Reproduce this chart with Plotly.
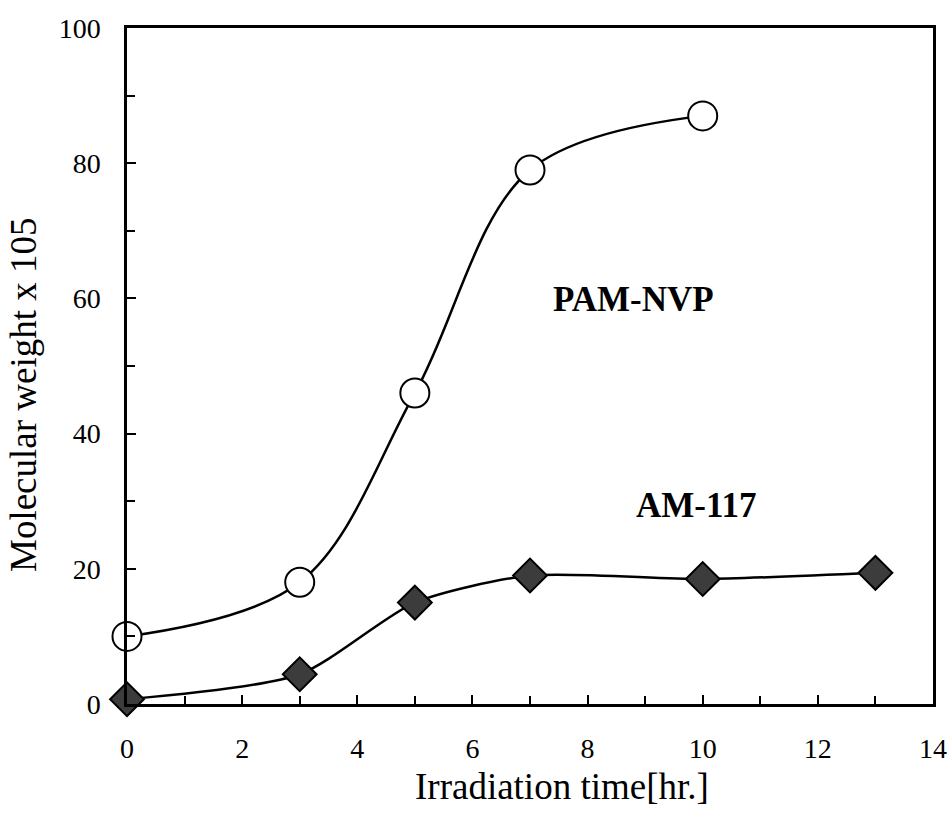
import plotly.graph_objects as go

# Data
time_pam = [0, 3, 5, 7, 10]
mw_pam = [10, 18, 46, 79, 87]

time_am = [0, 3, 5, 7, 10, 13]
mw_am = [0.7, 4.4, 15, 19, 18.5, 19.4]

x_ticks = [0, 2, 4, 6, 8, 10, 12, 14]
y_ticks = [0, 20, 40, 60, 80, 100]

label_pam = "PAM-NVP"
label_am = "AM-117"
x_title = "Irradiation time[hr.]"
y_title = "Molecular weight x 105"

FONT = "Liberation Serif, Times New Roman, serif"

L, R, T, B = 127, 933, 28, 704   # plot area pixel bounds

fig = go.Figure()

fig.add_trace(go.Scatter(
    x=time_pam, y=mw_pam, mode="lines+markers",
    line=dict(color="black", width=2.5, shape="spline", smoothing=1.0),
    marker=dict(symbol="circle", size=29, color="white",
                line=dict(color="black", width=2)),
    showlegend=False, cliponaxis=False,
))

fig.add_trace(go.Scatter(
    x=time_am, y=mw_am, mode="lines+markers",
    line=dict(color="black", width=2.5, shape="spline", smoothing=0.7),
    marker=dict(symbol="diamond", size=26, color="#3c3c3c",
                line=dict(color="black", width=2)),
    showlegend=False, cliponaxis=False,
))

fig.add_annotation(x=8.79, y=59.8, text="<b>" + label_pam + "</b>", showarrow=False,
                   font=dict(family=FONT, size=35, color="black"))
fig.add_annotation(x=9.9, y=29.3, text="<b>" + label_am + "</b>", showarrow=False,
                   font=dict(family=FONT, size=35, color="black"))

# Axis titles as annotations for precise placement
fig.add_annotation(xref="paper", yref="paper",
                   x=(562 - L) / (R - L), y=(B - 786) / (B - T),
                   xanchor="center", yanchor="middle",
                   text=x_title, showarrow=False,
                   font=dict(family=FONT, size=37, color="black"))
fig.add_annotation(xref="paper", yref="paper",
                   x=(23 - L) / (R - L), y=(B - 395) / (B - T),
                   xanchor="center", yanchor="middle",
                   text=y_title, textangle=-90, showarrow=False,
                   font=dict(family=FONT, size=37, color="black"))

fig.update_xaxes(
    range=[0, 14], tickvals=x_ticks, ticktext=[str(v) for v in x_ticks],
    ticks="inside", ticklen=9, tickwidth=2, tickcolor="black",
    minor=dict(dtick=1, ticks="inside", ticklen=8, tickwidth=2, tickcolor="black"),
    showline=True, linecolor="black", linewidth=2.5, mirror=True,
    showgrid=False, zeroline=False, automargin=False,
    tickfont=dict(family=FONT, size=28, color="black"),
    ticklabelstandoff=18,
)
fig.update_yaxes(
    range=[0, 100], tickvals=y_ticks, ticktext=[str(v) for v in y_ticks],
    ticks="inside", ticklen=9, tickwidth=2, tickcolor="black",
    minor=dict(dtick=10, ticks="inside", ticklen=8, tickwidth=2, tickcolor="black"),
    showline=True, linecolor="black", linewidth=2.5, mirror=True,
    showgrid=False, zeroline=False, automargin=False,
    tickfont=dict(family=FONT, size=28, color="black"),
    ticklabelstandoff=18,
)

fig.update_layout(
    width=951, height=819,
    margin=dict(l=L, r=951 - R, t=T, b=819 - B),
    paper_bgcolor="white", plot_bgcolor="white",
    font=dict(family=FONT, color="black"),
)

fig.write_html("out.html", config={"displayModeBar": False},
               post_script="document.body.style.margin='0px';document.body.style.overflow='hidden';")
